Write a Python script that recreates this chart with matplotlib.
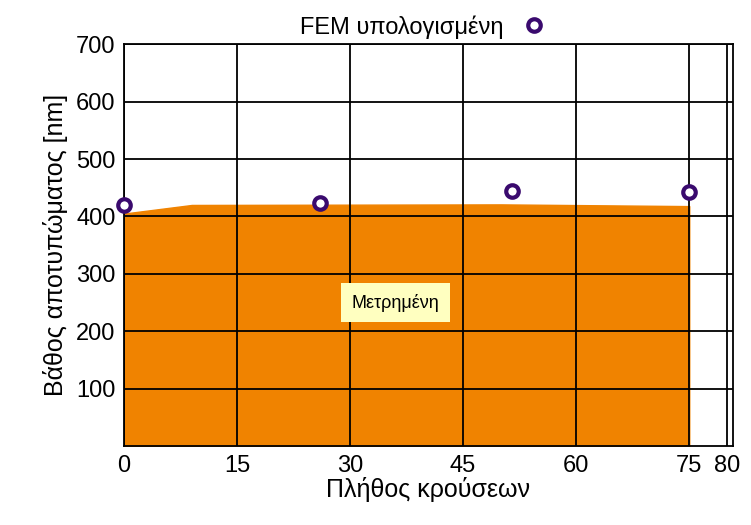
import matplotlib.pyplot as plt

plt.rcParams['font.family'] = ['Liberation Sans', 'DejaVu Sans']

# measured depth (filled area)
meas_x = [0, 9, 50, 75]
meas_y = [405, 420, 421, 418]
# FEM computed points
fem_x = [0, 26, 51.5, 75]
fem_y = [420, 424, 445, 443]

xticks = [0, 15, 30, 45, 60, 75, 80]
yticks = [100, 200, 300, 400, 500, 600, 700]

fig = plt.figure(figsize=(7.51, 5.25), dpi=100)
ax = fig.add_axes([0.165, 0.150, 0.811, 0.766])

ax.fill_between(meas_x, meas_y, 0, color='#f08300', zorder=1)
ax.plot(fem_x, fem_y, 'o', ms=9, mfc='white', mec='#3a0a6e', mew=3,
        clip_on=False, zorder=5, label='FEM υπολογισμένη')

ax.set_xlim(0, 80.8)
ax.set_ylim(0, 700)
ax.set_xticks(xticks)
ax.set_yticks(yticks)
ax.grid(True, color='black', lw=1.3)
ax.set_axisbelow(False)
for s in ax.spines.values():
    s.set_linewidth(1.3)
ax.tick_params(labelsize=17, length=0, pad=6)
ax.set_xlabel('Πλήθος κρούσεων', fontsize=18, labelpad=0)
ax.set_ylabel('Βάθος αποτυπώματος [nm]', fontsize=18, labelpad=6)

ax.text(36, 250, 'Μετρημένη', fontsize=13, ha='center', va='center',
        bbox=dict(boxstyle='square,pad=0.6', fc='#ffffc0', ec='none'), zorder=6)

ax.legend(loc='lower center', bbox_to_anchor=(0.5, 0.99), frameon=False,
          fontsize=17, markerfirst=False, handletextpad=0.3, borderaxespad=0)

fig.savefig('out.png', dpi=100)
